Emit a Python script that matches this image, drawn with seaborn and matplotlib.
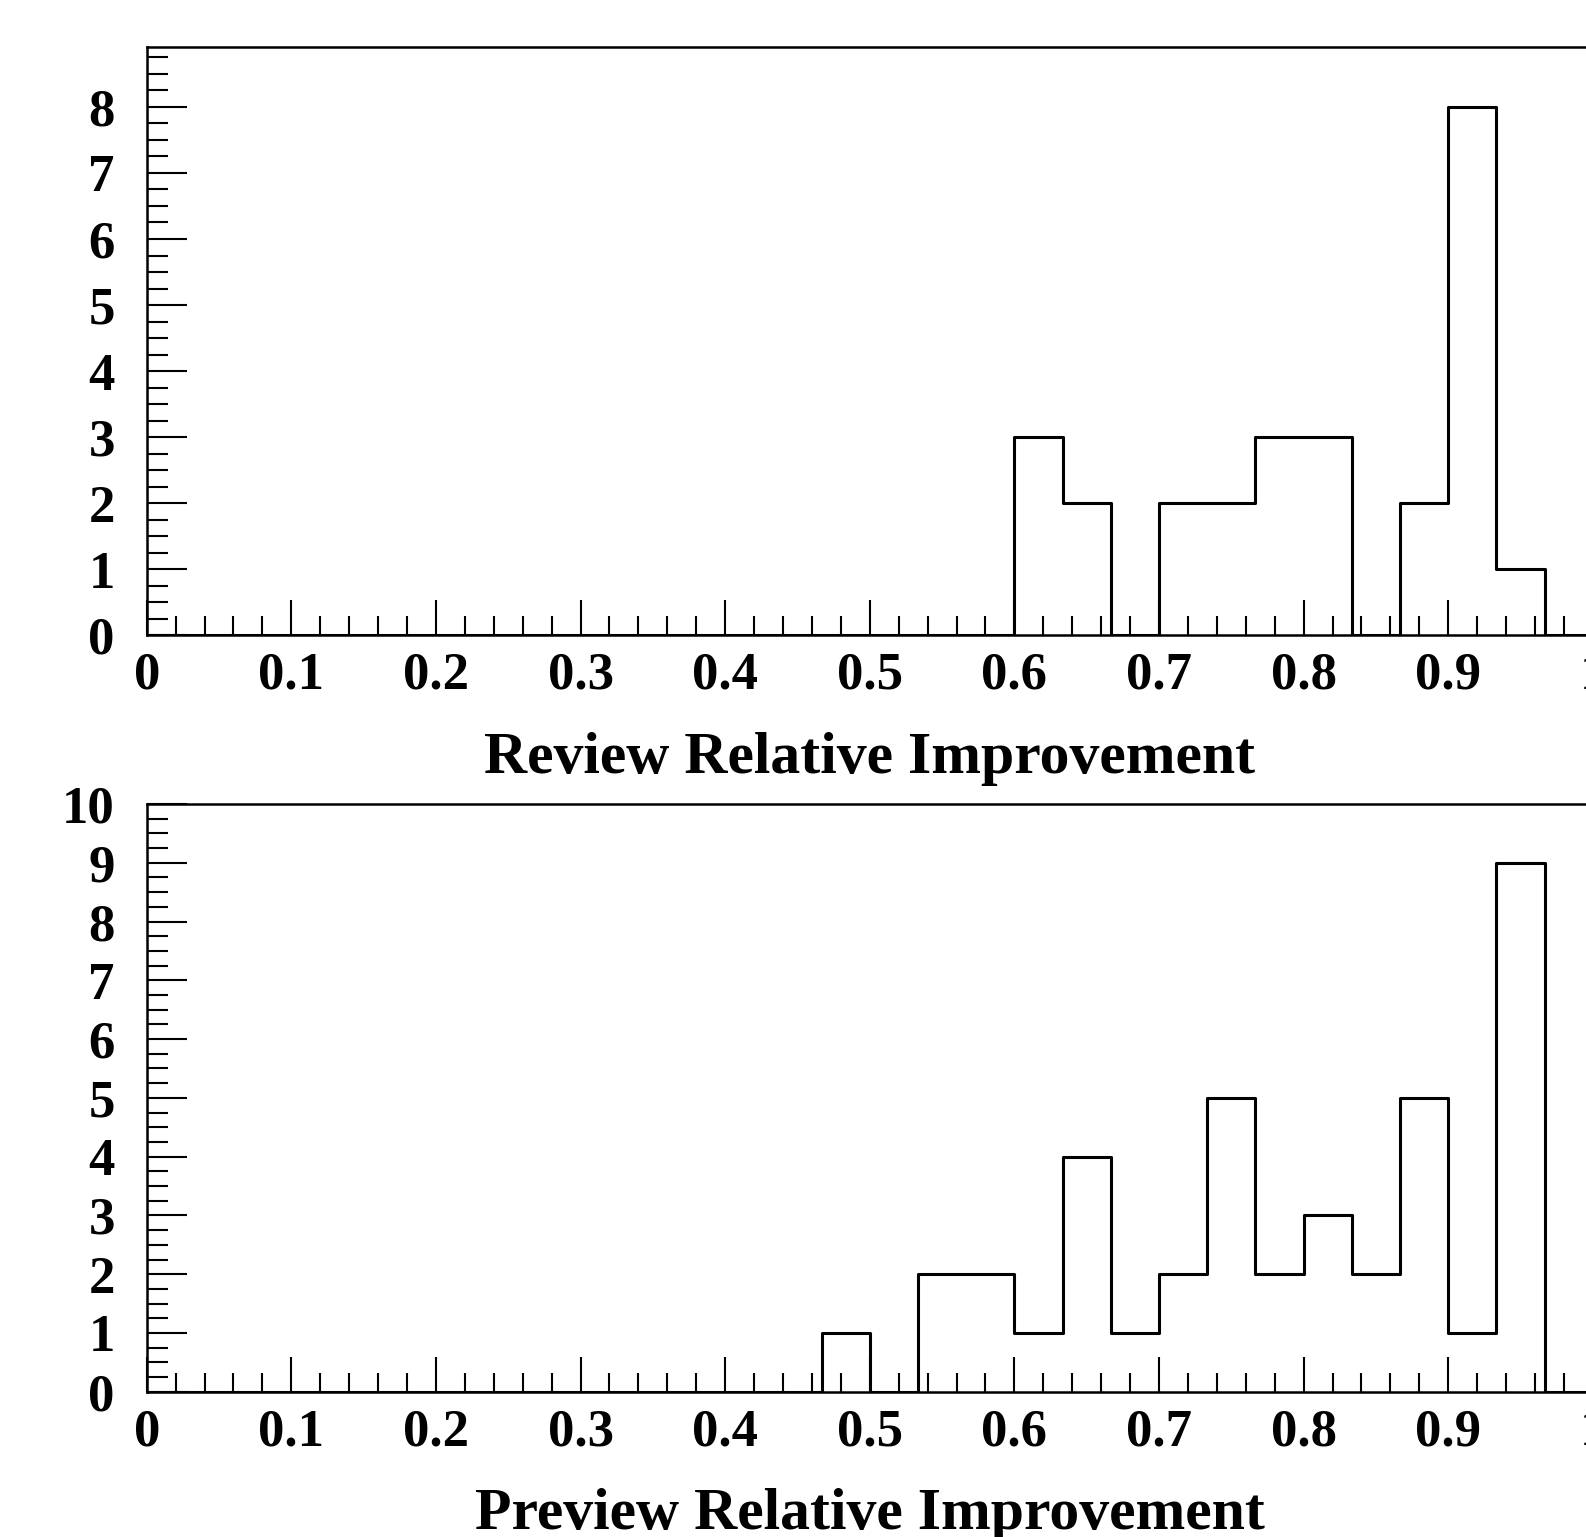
import numpy as np
import pandas as pd
import matplotlib
matplotlib.use('agg')
import matplotlib.pyplot as plt
import seaborn as sns
from matplotlib.ticker import MultipleLocator

sns.set_style('white')
plt.rcParams['font.family'] = ['Liberation Serif', 'DejaVu Serif']
plt.rcParams['font.weight'] = 'bold'
plt.rcParams['text.color'] = 'black'
plt.rcParams['axes.labelcolor'] = 'black'
plt.rcParams['xtick.color'] = 'black'
plt.rcParams['ytick.color'] = 'black'

# 30 bins between 0 and 1
n_bins = 30
bin_edges = np.linspace(0, 1, n_bins + 1)
bin_centers = (bin_edges[:-1] + bin_edges[1:]) / 2

review_counts = [0, 0, 0, 0, 0, 0, 0, 0, 0, 0,
                 0, 0, 0, 0, 0, 0, 0, 0, 3, 2,
                 0, 2, 2, 3, 3, 0, 2, 8, 1, 0]
preview_counts = [0, 0, 0, 0, 0, 0, 0, 0, 0, 0,
                  0, 0, 0, 0, 1, 0, 2, 2, 1, 4,
                  1, 2, 5, 2, 3, 2, 5, 1, 9, 0]

panels = [
    ('Review Relative Improvement', review_counts, 8.9, 0.5867),
    ('Preview Relative Improvement', preview_counts, 10, 0.0945),
]

fig = plt.figure(figsize=(15.86, 15.37), dpi=100)

for label, counts, ymax, bottom in panels:
    ax = fig.add_axes([0.0925, bottom, 0.9118, 0.3824])
    df = pd.DataFrame({'x': bin_centers, 'n': counts})
    sns.histplot(data=df, x='x', weights='n', bins=n_bins, binrange=(0, 1),
                 element='step', fill=False, color='black', linewidth=2.2, ax=ax)
    ax.set_xlim(0, 1)
    ax.set_ylim(0, ymax)
    ax.xaxis.set_major_locator(MultipleLocator(0.1))
    ax.xaxis.set_minor_locator(MultipleLocator(0.02))
    ax.yaxis.set_major_locator(MultipleLocator(1))
    ax.yaxis.set_minor_locator(MultipleLocator(0.25))
    ax.xaxis.set_major_formatter(plt.FuncFormatter(lambda v, p: '%g' % round(v, 2)))
    ax.tick_params(which='both', direction='in', top=False, right=False,
                   bottom=True, left=True, width=1.5, color='black')
    ax.tick_params(axis='y', which='major', length=29, labelsize=38, pad=23)
    ax.tick_params(axis='y', which='minor', length=15)
    ax.tick_params(axis='x', which='major', length=25, labelsize=38, pad=12)
    ax.tick_params(axis='x', which='minor', length=14)
    for s in ax.spines.values():
        s.set_color('black')
        s.set_linewidth(1.8)
    ax.set_xlabel(label, fontsize=43, fontweight='bold', labelpad=23)
    ax.set_ylabel('')

fig.savefig('out.png', dpi=100, facecolor='white')
